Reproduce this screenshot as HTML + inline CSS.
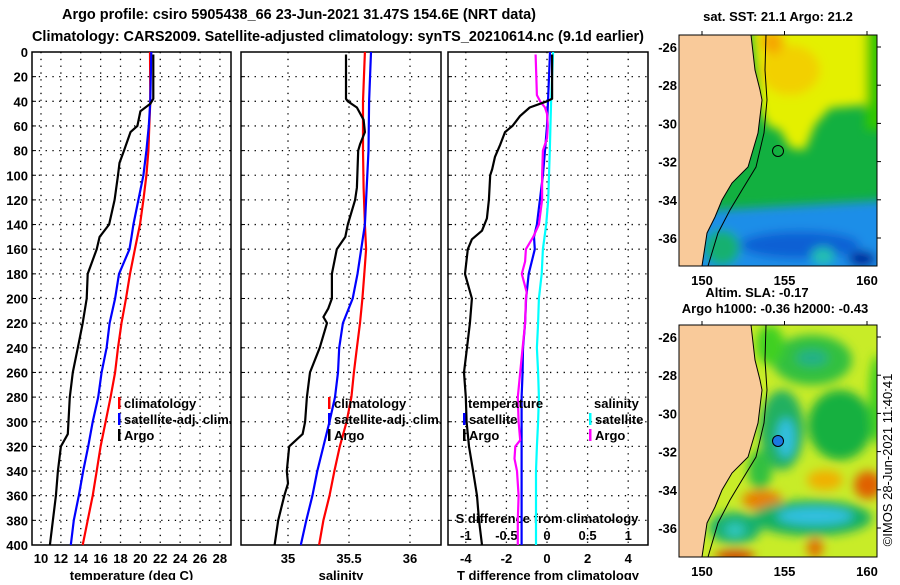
<!DOCTYPE html>
<html><head><meta charset="utf-8">
<style>
body{margin:0;background:#fff;width:900px;height:580px;overflow:hidden;font-family:"Liberation Sans",sans-serif;}
svg text{font-family:"Liberation Sans",sans-serif;font-weight:bold;fill:#000;}
</style></head>
<body>
<svg id="chart" width="900" height="580" viewBox="0 0 900 580" xmlns="http://www.w3.org/2000/svg">
<defs>
<filter id="blur1" x="-20%" y="-20%" width="140%" height="140%"><feGaussianBlur stdDeviation="5"/></filter>
<clipPath id="m1clip"><rect x="679" y="35" width="198" height="231"/></clipPath>
<clipPath id="m2clip"><rect x="679" y="325" width="198" height="232"/></clipPath>
</defs>
<text x="299" y="19" font-size="15" text-anchor="middle" textLength="474" lengthAdjust="spacingAndGlyphs">Argo profile: csiro 5905438_66 23-Jun-2021 31.47S 154.6E (NRT data)</text>
<text x="338" y="41" font-size="15" text-anchor="middle" textLength="612" lengthAdjust="spacingAndGlyphs">Climatology: CARS2009. Satellite-adjusted climatology: synTS_20210614.nc (9.1d earlier)</text>

<!-- Map 1 SST -->
<g clip-path="url(#m1clip)">
<rect x="679" y="35" width="198" height="231" fill="#12b040"/>
<g filter="url(#blur1)">
<path d="M750,20 L890,20 L890,103 L830,108 L815,125 L805,150 L790,148 L780,130 L768,126 L760,110 Z" fill="#e4f000"/>
<ellipse cx="790" cy="70" rx="30" ry="25" fill="#f2d000"/>
<ellipse cx="772" cy="42" rx="12" ry="12" fill="#f5a800"/>
<rect x="866" y="20" width="20" height="110" fill="#30c800"/>
<path d="M680,212 L890,200 L890,280 L680,280 Z" fill="#1c8ee8"/>
<ellipse cx="800" cy="245" rx="60" ry="14" fill="#1060d4"/>
<ellipse cx="862" cy="259" rx="14" ry="8" fill="#00249a"/>
<ellipse cx="823" cy="256" rx="12" ry="9" fill="#20c0b0"/>
<ellipse cx="722" cy="248" rx="18" ry="18" fill="#18b070"/>
</g>
</g>
<g clip-path="url(#m1clip)">
<path d="M679,35 L751,35 L755,70 L760,90 L762,100 L758,133 L748,167 L732,183 L722,200 L715,217 L707,233 L702,266 L679,266 Z" fill="#f9ca9a" stroke="#000" stroke-width="1"/>
<path d="M766,35 L765,70 L767,100 L764,133 L756,167 L742,190 L730,210 L718,233 L708,266" fill="none" stroke="#000" stroke-width="1"/>
<circle cx="778" cy="151" r="5.5" fill="none" stroke="#000" stroke-width="1"/>
</g>
<rect x="679" y="35" width="198" height="231" fill="none" stroke="#000" stroke-width="1"/>

<!-- Map 2 SLA -->
<g clip-path="url(#m2clip)">
<rect x="679" y="325" width="198" height="232" fill="#c8ec28"/>
<g filter="url(#blur1)">
<ellipse cx="812" cy="360" rx="40" ry="25" fill="#30c040"/>
<ellipse cx="812" cy="358" rx="16" ry="8" fill="#20b088"/>
<ellipse cx="782" cy="430" rx="22" ry="40" fill="#20b060"/>
<ellipse cx="786" cy="438" rx="9" ry="20" fill="#30c0e0"/>
<ellipse cx="840" cy="425" rx="32" ry="35" fill="#18b040"/>
<ellipse cx="877" cy="400" rx="8" ry="45" fill="#40d020"/>
<ellipse cx="770" cy="345" rx="14" ry="20" fill="#40d020"/>
<ellipse cx="760" cy="470" rx="12" ry="20" fill="#30c040"/>
<ellipse cx="825" cy="480" rx="18" ry="10" fill="#f0b000"/>
<ellipse cx="868" cy="485" rx="14" ry="14" fill="#e06000"/>
<ellipse cx="762" cy="500" rx="20" ry="10" fill="#e88000"/>
<ellipse cx="812" cy="518" rx="60" ry="18" fill="#18b060"/>
<ellipse cx="815" cy="516" rx="38" ry="9" fill="#30c0e0"/>
<ellipse cx="735" cy="528" rx="26" ry="16" fill="#18b070"/>
<ellipse cx="735" cy="530" rx="10" ry="7" fill="#30c8c0"/>
<ellipse cx="815" cy="548" rx="8" ry="10" fill="#e07000"/>
<ellipse cx="735" cy="556" rx="20" ry="6" fill="#d04000"/>
</g>
</g>
<g clip-path="url(#m2clip)">
<path d="M679,325 L751,325 L755,360 L760,380 L762,390 L758,423 L748,457 L732,473 L722,490 L715,507 L707,523 L702,557 L679,557 Z" fill="#f9ca9a" stroke="#000" stroke-width="1"/>
<path d="M766,325 L765,360 L767,390 L764,423 L756,457 L742,480 L730,500 L718,523 L708,557" fill="none" stroke="#000" stroke-width="1"/>
<circle cx="778" cy="441" r="5.5" fill="#1a78e0" stroke="#000" stroke-width="1"/>
</g>
<rect x="679" y="325" width="198" height="232" fill="none" stroke="#000" stroke-width="1"/>

<text x="778" y="21" font-size="13" text-anchor="middle">sat. SST: 21.1 Argo: 21.2</text>
<text x="757" y="297" font-size="13" text-anchor="middle">Altim. SLA: -0.17</text>
<text x="775" y="313" font-size="13" text-anchor="middle">Argo h1000: -0.36 h2000: -0.43</text>
<text transform="translate(892,460) rotate(-90)" font-size="13" text-anchor="middle" style="font-weight:normal">©IMOS 28-Jun-2021 11:40:41</text>
<g id="axes"></g>
</svg>
<script>
// ---- data ----
const depthArgoT=[2,38,42,48,60,65,80,90,100,120,140,150,160,180,200,220,240,260,280,310,320,340,360,380,400];
const tempArgo=[21.3,21.3,21.0,20.0,19.7,19.0,18.35,17.9,17.75,17.4,16.85,15.9,15.6,14.7,14.6,14.2,13.7,13.2,12.9,12.7,12.0,11.7,11.5,11.2,10.9];
const depthClim=[0,40,60,80,100,120,140,150,160,180,200,220,240,260,280,300,320,340,360,380,400];
const tempSat=[21.1,21.0,20.85,20.6,20.3,19.8,19.3,19.1,18.9,17.85,17.45,16.9,16.6,16.1,15.75,15.2,14.75,14.25,13.8,13.3,13.0];
const tempClim=[20.97,21.0,20.9,20.8,20.6,20.3,19.96,19.7,19.45,18.95,18.55,18.1,17.75,17.45,17.0,16.5,16.0,15.6,15.2,14.7,14.2];
const depthArgoS=[2,38,40,45,55,65,75,80,110,120,140,150,160,180,200,208,215,220,240,260,280,300,310,320,340,350,360,380,400];
const salArgo=[35.475,35.475,35.49,35.565,35.62,35.63,35.59,35.575,35.565,35.55,35.49,35.47,35.40,35.36,35.36,35.33,35.29,35.32,35.26,35.18,35.155,35.14,35.12,35.01,34.99,35.0,34.97,34.92,34.89];
const depthSal=[0,40,80,110,140,160,180,200,220,240,260,280,300,320,340,360,380,400];
const salSat=[35.68,35.665,35.66,35.645,35.63,35.6,35.57,35.53,35.45,35.42,35.41,35.385,35.34,35.29,35.24,35.2,35.15,35.105];
const salClim=[35.63,35.615,35.615,35.62,35.63,35.64,35.625,35.61,35.59,35.565,35.54,35.52,35.48,35.425,35.38,35.34,35.29,35.255];
const depthTd=[2,38,40,42,45,52,60,65,75,85,95,100,120,135,145,152,160,180,200,220,240,260,280,300,320,340,360,380,400];
const tdiffArgo=[0.25,0.25,0,-0.35,-0.85,-1.33,-1.7,-2.07,-2.3,-2.56,-2.7,-2.8,-2.86,-2.96,-3.2,-3.7,-3.9,-4.04,-3.7,-3.8,-3.94,-4.09,-4.0,-3.96,-3.84,-3.64,-3.45,-3.35,-3.2];
const depthTdSat=[0,40,60,80,100,120,140,150,160,180,200,220,240,260,280,400];
const tdiffSat=[0.15,0.05,0,-0.1,-0.2,-0.35,-0.5,-0.64,-0.6,-0.9,-1.03,-1.08,-1.18,-1.2,-1.25,-1.25];
const depthSdSat=[0,40,80,120,140,160,180,200,220,240,260,280,300,320,340,400];
const sdiffSat=[0.075,0.05,0.035,0.015,-0.01,-0.05,-0.065,-0.1,-0.11,-0.125,-0.11,-0.1,-0.11,-0.125,-0.135,-0.135];
const depthSdArgo=[2,35,40,45,50,60,70,80,100,120,140,150,160,170,180,195,200,220,240,260,280,300,315,320,330,340,360,380,400];
const sdiffArgo=[-0.14,-0.125,-0.085,-0.025,0,0.01,0,-0.05,-0.06,-0.06,-0.1,-0.17,-0.26,-0.27,-0.31,-0.25,-0.26,-0.27,-0.3,-0.33,-0.36,-0.35,-0.33,-0.39,-0.4,-0.37,-0.35,-0.36,-0.36];
const depthTicks=[0,20,40,60,80,100,120,140,160,180,200,220,240,260,280,300,320,340,360,380,400];
const tempTicks=[10,12,14,16,18,20,22,24,26,28];
const salTicks=[35,35.5,36];
const tdTicks=[-4,-2,0,2,4];
const sdTicks=[-1,-0.5,0,0.5,1];
const latTicks=[-26,-28,-30,-32,-34,-36];
const lonTicks=[150,155,160];

// ---- scales ----
const yD=d=>52+d*1.2325;
const xT=t=>41+(t-10)*9.94;
const xS=s=>288+(s-35)*122;
const xTd=v=>547+v*20.3;
const xSd=v=>547+v*81.2;
const yLat1=l=>47+(-26-l)*19.1;
const yLat2=l=>337+(-26-l)*19.1;
const xLon=l=>702+(l-150)*16.5;

const NS='http://www.w3.org/2000/svg';
const g=document.getElementById('axes');
function mk(tag,attrs,parent){const e=document.createElementNS(NS,tag);for(const k in attrs)e.setAttribute(k,attrs[k]);(parent||g).appendChild(e);return e;}
function txt(x,y,s,size,anchor){const e=mk('text',{x:x,y:y,'font-size':size,'text-anchor':anchor||'middle'});e.textContent=s;return e;}

const panels=[
 {name:'temperature',x0:32,x1:231,ticks:tempTicks,fx:xT,label:'temperature (deg C)'},
 {name:'salinity',x0:241,x1:441,ticks:salTicks,fx:xS,label:'salinity'},
 {name:'difference',x0:448,x1:648,ticks:tdTicks,fx:xTd,label:'T difference from climatology'}
];
panels.forEach((p,i)=>{
  const pg=mk('g',{});
  
  
  depthTicks.forEach(d=>{if(d>0&&d<400){const l=mk('line',{x1:p.x0,x2:p.x1,y1:yD(d),y2:yD(d),stroke:'#000','stroke-width':1.3,'stroke-dasharray':'1.3,5.5'},pg);
    
    }
    const tk=mk('line',{x1:p.x0,x2:p.x0+4,y1:yD(d),y2:yD(d),stroke:'#000'},pg);
    
    });
  p.ticks.forEach(v=>{const x=p.fx(v);const l=mk('line',{x1:x,x2:x,y1:52,y2:545,stroke:'#000','stroke-width':1.3,'stroke-dasharray':'1.3,5.5'},pg);
    
    
    const t=txt(x,563,String(v),13);
    
    });
  const r=mk('rect',{x:p.x0,y:52,width:p.x1-p.x0,height:493,fill:'none',stroke:'#000','stroke-width':1.5},pg);
  
  
  const at=txt((p.x0+p.x1)/2,580,p.label,13);
  
  
});
depthTicks.forEach(d=>{const t=txt(28,yD(d)+5,String(d),13,'end');
  
  });
sdTicks.forEach(v=>{const t=txt(xSd(v),540,String(v),13);
  
  });
const sdt=txt(547,523,'S difference from climatology',13);



function line(xs,ds,fx,color,name){
  const pts=xs.map((v,i)=>fx(v).toFixed(1)+','+yD(ds[i]).toFixed(1)).join(' ');
  const e=mk('polyline',{points:pts,fill:'none',stroke:color,'stroke-width':2.2,'stroke-linejoin':'round'});
  
  
}
line(tempClim,depthClim,xT,'#ff0000','temp-climatology-line');
line(tempSat,depthClim,xT,'#0000ff','temp-satellite-line');
line(tempArgo,depthArgoT,xT,'#000','temp-argo-line');
line(salClim,depthSal,xS,'#ff0000','sal-climatology-line');
line(salSat,depthSal,xS,'#0000ff','sal-satellite-line');
line(salArgo,depthArgoS,xS,'#000','sal-argo-line');
line(sdiffSat,depthSdSat,xSd,'#00ffff','sdiff-satellite-line');
line(tdiffSat,depthTdSat,xTd,'#0000ff','tdiff-satellite-line');
line(sdiffArgo,depthSdArgo,xSd,'#ff00ff','sdiff-argo-line');
line(tdiffArgo,depthTd,xTd,'#000','tdiff-argo-line');

function legend(x,y,color,label){
  const b=mk('rect',{x:x,y:y-11,width:2.5,height:12,fill:color});
  
  
  const t=txt(x+6,y,label,13,'start');
  
  
}
legend(118,408,'#ff0000','climatology');legend(118,424,'#0000ff','satellite-adj. clim.');legend(118,440,'#000','Argo');
legend(328,408,'#ff0000','climatology');legend(328,424,'#0000ff','satellite-adj. clim.');legend(328,440,'#000','Argo');
const tl=txt(468,408,'temperature',13,'start');


const sl=txt(594,408,'salinity',13,'start');


legend(463,424,'#0000ff','satellite');legend(463,440,'#000','Argo');
legend(589,424,'#00ffff','satellite');legend(589,440,'#ff00ff','Argo');

// map ticks (labels on left of map, ticks on right edge)
[[yLat1,35,266],[yLat2,325,557]].forEach(([fy,top,bot])=>{
  latTicks.forEach(l=>{const y=fy(l);
    const tk=mk('line',{x1:877,x2:881,y1:y,y2:y,stroke:'#000'});
    
    
    const t=txt(677,y+5,String(l),13,'end');
    
    });
  lonTicks.forEach(l=>{const x=xLon(l);
    const tk=mk('line',{x1:x,x2:x,y1:top-4,y2:top,stroke:'#000'});
    
    
    const t=txt(x,bot+19,String(l),13);
    
    });
});
</script>
</body></html>
